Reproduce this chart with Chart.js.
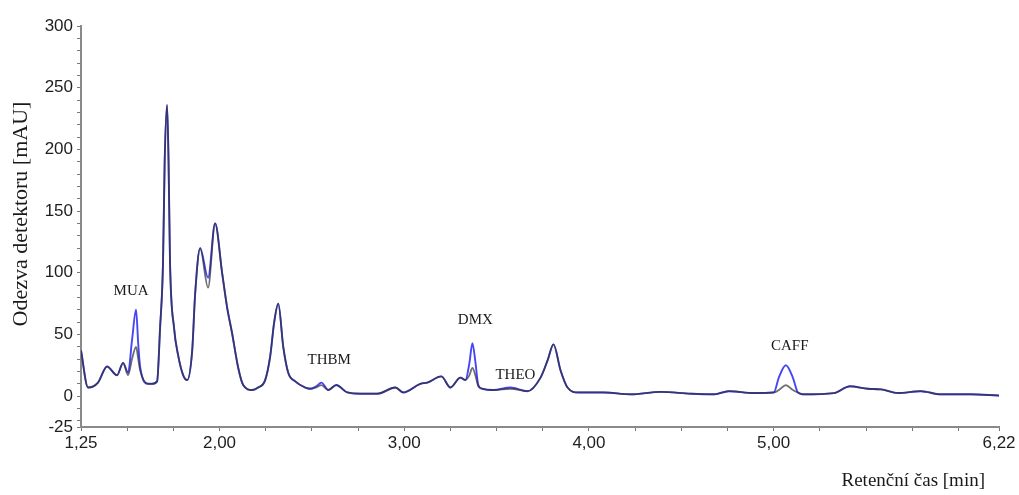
<!DOCTYPE html>
<html>
<head>
<meta charset="utf-8">
<script src="https://cdn.jsdelivr.net/npm/chart.js@4/dist/chart.umd.min.js"></script>
<style>
  html, body { margin: 0; padding: 0; background: #fff; }
  #wrap { width: 1019px; height: 495px; position: relative; }
</style>
</head>
<body>
<div id="wrap"><canvas id="chromatogram"></canvas></div>
<script>
// retention time [min]
const retentionTimes = [
  1.250, 1.288, 1.342, 1.391, 1.445, 1.478, 1.505, 1.526, 1.548, 1.560,
  1.570, 1.613, 1.635, 1.662, 1.678, 1.694, 1.703, 1.716, 1.724, 1.732,
  1.754, 1.776, 1.803, 1.825, 1.852, 1.868, 1.895, 1.938, 1.976, 2.014,
  2.041, 2.068, 2.101, 2.128, 2.177, 2.209, 2.247, 2.274, 2.296, 2.318,
  2.345, 2.372, 2.410, 2.464, 2.491, 2.524, 2.551, 2.589, 2.632, 2.692,
  2.762, 2.854, 2.952, 2.995, 3.087, 3.125, 3.201, 3.250, 3.304, 3.331,
  3.353, 3.369, 3.385, 3.401, 3.423, 3.483, 3.575, 3.667, 3.738, 3.776,
  3.808, 3.846, 3.884, 3.944, 4.079, 4.226, 4.388, 4.551, 4.676, 4.757,
  4.892, 5.001, 5.028, 5.066, 5.104, 5.131, 5.158, 5.326, 5.413, 5.510,
  5.581, 5.673, 5.797, 5.906, 6.068, 6.220
];

// sample (dark trace) [mAU]
const sampleSignal = [
  37, 7, 11, 24, 17, 27, 17, 30, 40, 30,
  21, 10, 10, 12, 55, 108, 190, 236, 190, 108,
  55, 33, 17, 13, 37, 83, 120, 88, 140, 100,
  72, 51, 23, 9, 5, 7, 13, 32, 60, 75,
  40, 19, 12, 7, 6, 7, 9, 5, 9, 3,
  2, 2, 7, 3, 10, 11, 16, 7, 15, 13,
  17, 23, 17, 8, 6, 5, 6, 4, 15, 29,
  42, 21, 7, 3, 3, 1.5, 3.5, 2, 1.5, 4,
  2.5, 3, 5, 9, 5, 3, 1.5, 2.5, 8, 6,
  5.5, 2.5, 4, 1.5, 1.5, 0.5
];

// spiked sample (blue trace) [mAU]
const spikedSignal = [
  37, 7, 11, 24, 17, 27, 19, 45, 70, 42,
  24, 10, 10, 12, 55, 108, 190, 236, 190, 108,
  55, 33, 17, 13, 37, 83, 120, 96, 140, 100,
  72, 51, 23, 9, 5, 7, 13, 32, 60, 75,
  40, 19, 12, 7, 6, 8, 11, 5, 9, 3,
  2, 2, 7, 3, 10, 11, 16, 7, 15, 13,
  27, 43, 28, 9, 6, 5, 7, 4, 15, 29,
  42, 21, 7, 3, 3, 1.5, 3.5, 2, 1.5, 4,
  2.5, 3, 15, 25, 15, 3, 1.5, 2.5, 8, 6,
  5.5, 2.5, 4, 1.5, 1.5, 0.5
];

// axis ticks
const xTicks = [1.25, 1.5, 1.75, 2.0, 2.25, 2.5, 2.75, 3.0, 3.25, 3.5, 3.75, 4.0,
                4.25, 4.5, 4.75, 5.0, 5.25, 5.5, 5.75, 6.0, 6.22];
const xTickLabels = [1.25, 2.0, 3.0, 4.0, 5.0, 6.22];
const yTicks = [-25, -20, -10, 0, 10, 20, 30, 40, 50, 60, 70, 80, 90, 100, 110, 120,
                130, 140, 150, 160, 170, 180, 190, 200, 210, 220, 230, 240, 250,
                260, 270, 280, 290, 300];
const yTickLabels = [-25, 0, 50, 100, 150, 200, 250, 300];

// peak annotations (time, response)
const peakNames = ['MUA', 'THBM', 'DMX', 'THEO', 'CAFF'];
const peakLabelTimes = [1.521, 2.594, 3.385, 3.602, 5.087];
const peakLabelValues = [85, 29, 61.5, 17, 40.5];

const xTitle = 'Retenční čas [min]';
const yTitle = 'Odezva detektoru [mAU]';

function fmtComma(v, digits) {
  return v.toFixed(digits).replace('.', ',');
}

const textPlugin = {
  id: 'textPlugin',
  afterDraw(chart) {
    const { ctx, scales: { x, y } } = chart;
    ctx.save();
    ctx.fillStyle = '#1a1a1a';
    ctx.font = '15px "Liberation Serif", "Times New Roman", serif';
    ctx.textAlign = 'center';
    ctx.textBaseline = 'middle';
    for (let i = 0; i < peakNames.length; i++) {
      ctx.fillText(peakNames[i], x.getPixelForValue(peakLabelTimes[i]), y.getPixelForValue(peakLabelValues[i]));
    }
    // axis titles
    ctx.font = '19px "Liberation Serif", "Times New Roman", serif';
    ctx.textAlign = 'right';
    ctx.fillText(xTitle, 985, 481);
    ctx.translate(21, 214);
    ctx.rotate(-Math.PI / 2);
    ctx.textAlign = 'center';
    ctx.font = '22px "Liberation Serif", "Times New Roman", serif';
    ctx.fillText(yTitle, 0, 0);
    ctx.restore();
  }
};

const chromData = {
  labels: retentionTimes,
  datasets: [
    {
      label: 'sample',
      data: retentionTimes.map((t, i) => ({ x: t, y: sampleSignal[i] })),
      borderColor: 'rgba(45,45,55,0.7)',
      borderWidth: 1.8,
      pointRadius: 0,
      cubicInterpolationMode: 'monotone',
      fill: false
    },
    {
      label: 'spiked',
      data: retentionTimes.map((t, i) => ({ x: t, y: spikedSignal[i] })),
      borderColor: '#4646f5',
      borderWidth: 1.9,
      pointRadius: 0,
      cubicInterpolationMode: 'monotone',
      fill: false
    }
  ]
};

new Chart(document.getElementById('chromatogram'), {
  type: 'line',
  data: chromData,
  options: {
    responsive: true,
    maintainAspectRatio: false,
    animation: false,
    layout: { padding: { left: 0, top: 26, right: 20, bottom: 0 } },
    plugins: { legend: { display: false }, tooltip: { enabled: false } },
    scales: {
      x: {
        type: 'linear',
        min: 1.25,
        max: 6.22,
        afterBuildTicks: scale => { scale.ticks = xTicks.map(v => ({ value: v })); },
        afterFit: scale => { scale.height = 68; },
        border: { display: true, color: '#8a8a8a', width: 2 },
        grid: { drawOnChartArea: false, tickLength: 4, color: '#777' },
        ticks: {
          autoSkip: false,
          maxRotation: 0,
          padding: 2,
          color: '#1e1e1e',
          font: { family: '"Liberation Sans", Arial, sans-serif', size: 17 },
          callback: v => xTickLabels.some(l => Math.abs(l - v) < 1e-6) ? fmtComma(v, 2) : ''
        }
      },
      y: {
        type: 'linear',
        min: -25,
        max: 300,
        afterBuildTicks: scale => { scale.ticks = yTicks.map(v => ({ value: v })); },
        afterFit: scale => { scale.width = 81; },
        border: { display: true, color: '#8a8a8a', width: 2 },
        grid: { drawOnChartArea: false, tickLength: 4, color: '#777' },
        ticks: {
          autoSkip: false,
          padding: 4,
          color: '#1e1e1e',
          font: { family: '"Liberation Sans", Arial, sans-serif', size: 17 },
          callback: v => yTickLabels.includes(v) ? String(v) : ''
        }
      }
    }
  },
  plugins: [textPlugin]
});
</script>
</body>
</html>
